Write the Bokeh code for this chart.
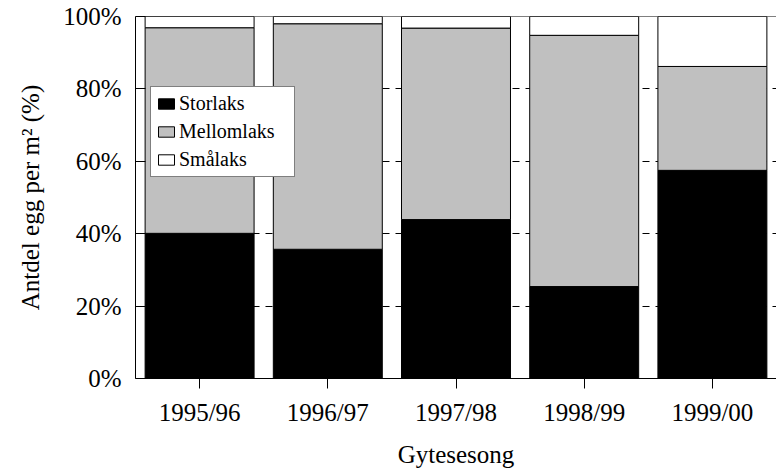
from bokeh.plotting import figure
from bokeh.models import FactorRange, FixedTicker, PrintfTickFormatter, Span, Legend
from bokeh.embed import file_html
from bokeh.resources import INLINE

seasons = ["1995/96", "1996/97", "1997/98", "1998/99", "1999/00"]
storlaks = [40.1, 35.7, 43.9, 25.4, 57.5]
mellomlaks = [56.8, 62.3, 52.9, 69.4, 28.7]
smalaks = [3.1, 2.0, 3.2, 5.2, 13.8]
y_ticks = [0, 20, 40, 60, 80, 100]
series = ["Storlaks", "Mellomlaks", "Smålaks"]
colors = ["#000000", "#C0C0C0", "#FFFFFF"]

FONT = "Liberation Serif"

data = {"season": seasons, "Storlaks": storlaks, "Mellomlaks": mellomlaks, "Smålaks": smalaks}

p = figure(x_range=FactorRange(*seasons, range_padding=0), y_range=(0, 100),
           width=776, height=470, output_backend="svg", toolbar_location=None,
           min_border_left=135, min_border_right=0, min_border_top=16, min_border_bottom=92)
p.outline_line_color = None

renderers = p.vbar_stack(series, x="season", width=0.85, source=data,
                         fill_color=colors, line_color="black", line_width=1)

legend = Legend(items=[(s, [r]) for s, r in zip(series, renderers)], location=(15, 201))
legend.label_text_font = FONT
legend.label_text_font_size = "20px"
legend.label_text_color = "black"
legend.glyph_width = 20
legend.glyph_height = 13
legend.label_standoff = 3
legend.label_width = 110
legend.label_height = 23
legend.padding = 5
legend.spacing = 5
legend.margin = 0
legend.border_line_color = "black"
legend.border_line_width = 1
legend.background_fill_alpha = 1
p.add_layout(legend, "center")

p.add_layout(Span(location=100, dimension="width", line_color="black", line_width=1))

# grid
p.xgrid.visible = False
p.ygrid.ticker = FixedTicker(ticks=y_ticks)
p.ygrid.grid_line_color = "black"
p.ygrid.grid_line_dash = "7 6"
p.ygrid.grid_line_width = 1

# y axis
p.yaxis.ticker = FixedTicker(ticks=y_ticks)
p.yaxis.formatter = PrintfTickFormatter(format="%d%%")
p.yaxis.major_tick_in = 10
p.yaxis.major_tick_out = 0
p.yaxis.minor_tick_line_color = None
p.yaxis.major_label_standoff = 14
p.yaxis.axis_label = "Antdel egg per m² (%)"
p.yaxis.axis_label_standoff = 16

# x axis
p.xaxis.major_tick_in = 0
p.xaxis.major_tick_out = 10
p.xaxis.major_label_standoff = 10
p.xaxis.axis_label = "Gytesesong"
p.xaxis.axis_label_standoff = 12

for ax in (p.xaxis, p.yaxis):
    ax.axis_line_color = "black"
    ax.major_tick_line_color = "black"
    ax.major_label_text_font = FONT
    ax.major_label_text_font_size = "25px"
    ax.major_label_text_color = "black"
    ax.axis_label_text_font = FONT
    ax.axis_label_text_font_size = "25px"
    ax.axis_label_text_font_style = "normal"
    ax.axis_label_text_color = "black"

open("out.html", "w").write(file_html(p, INLINE))
